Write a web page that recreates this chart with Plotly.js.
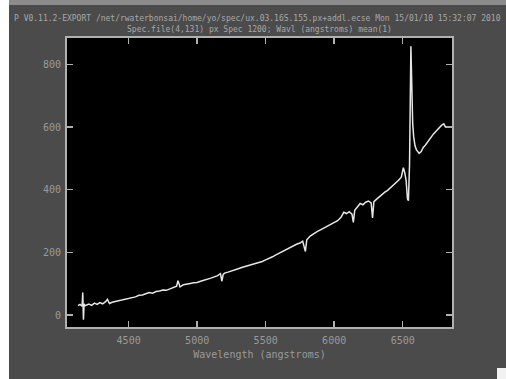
<!DOCTYPE html>
<html>
<head>
<meta charset="utf-8">
<script src="https://cdn.plot.ly/plotly-3.0.1.min.js"></script>
<style>
html,body{margin:0;padding:0;background:#ffffff;width:506px;height:379px;overflow:hidden;}
#wrap{position:absolute;left:9px;top:0;width:497px;height:379px;background:#4b4b4b;overflow:hidden;}
#topband{position:absolute;left:9px;top:0;width:497px;height:5px;background:#8c8c8c;z-index:5;}
#corner{position:absolute;left:497px;top:368px;width:9px;height:11px;background:#f2f2f2;z-index:5;}
#chart{position:absolute;left:0;top:0;width:497px;height:379px;}
</style>
</head>
<body>
<div id="wrap"><div id="chart"></div></div>
<div id="topband"></div>
<div id="corner"></div>
<script>
const wavelength = [4130,4145,4160,4165,4170,4175,4180,4195,4210,4230,4250,4270,4290,4310,4330,4345,4360,4380,4400,4425,4450,4475,4500,4525,4550,4575,4600,4625,4650,4675,4700,4725,4750,4775,4800,4825,4850,4860,4875,4900,4925,4950,4975,5000,5025,5050,5075,5100,5125,5150,5170,5180,5190,5200,5225,5250,5275,5300,5325,5350,5375,5400,5425,5450,5475,5500,5525,5550,5575,5600,5625,5650,5675,5700,5725,5750,5770,5790,5800,5825,5850,5875,5900,5925,5950,5975,6000,6025,6050,6070,6090,6110,6130,6140,6150,6170,6190,6210,6230,6250,6270,6280,6290,6310,6330,6350,6370,6390,6410,6430,6450,6470,6490,6505,6515,6525,6535,6542,6550,6556,6560,6564,6568,6573,6580,6590,6600,6610,6620,6635,6650,6665,6680,6695,6710,6725,6740,6755,6770,6785,6800,6815];
const flux = [30,34,28,72,-15,36,30,33,35,31,38,34,40,36,42,50,37,41,44,46,48,50,53,56,58,63,64,68,72,70,75,77,80,79,84,88,92,110,90,97,98,101,103,104,108,111,113,118,122,126,132,108,130,134,137,140,143,148,152,155,158,161,165,168,171,176,180,186,192,198,203,208,214,220,226,230,236,203,240,252,260,266,272,278,283,288,294,301,312,328,324,330,322,296,334,345,356,352,360,364,358,310,362,370,378,386,392,398,406,414,420,430,440,470,455,430,370,365,480,700,858,780,640,612,570,540,528,520,516,522,535,542,552,558,570,578,585,592,600,606,610,598];
const xTicks = [4500,5000,5500,6000,6500];
const yTicks = [0,200,400,600,800];
const titleLine1 = "P V0.11.2-EXPORT /net/rwaterbonsai/home/yo/spec/ux.03.16S.155.px+addl.ecse Mon 15/01/10 15:32:07 2010";
const titleLine2 = "Spec.file(4,131) px Spec 1200; Wavl (angstroms) mean(1)";
const xTitle = "Wavelength (angstroms)";

const mono = "DejaVu Sans Mono, monospace";
const data = [{
  x: wavelength, y: flux, type: 'scatter', mode: 'lines',
  line: {color: '#e6e6e6', width: 1.5}, hoverinfo: 'none'
}];
const axisCommon = {
  showgrid: false, zeroline: false, showline: true, mirror: 'ticks',
  linecolor: '#b0b0b0', linewidth: 2, ticks: 'inside', ticklen: 6,
  tickcolor: '#b0b0b0', tickwidth: 1.5,
  tickfont: {family: mono, size: 10, color: '#9a9a9a'}
};
const layout = {
  width: 497, height: 379,
  margin: {l: 58, r: 54, t: 38, b: 52},
  paper_bgcolor: '#4b4b4b', plot_bgcolor: '#000000',
  showlegend: false,
  xaxis: Object.assign({}, axisCommon, {
    range: [4050, 6860], tickvals: xTicks, ticktext: xTicks.map(String),
    ticklabelstandoff: 3,
    title: {text: xTitle, font: {family: mono, size: 10, color: '#9a9a9a'}, standoff: 6}
  }),
  yaxis: Object.assign({}, axisCommon, {
    range: [-38, 884], tickvals: yTicks, ticktext: yTicks.map(String),
    ticklabelstandoff: 2
  }),
  annotations: [
    {text: titleLine1, xref: 'paper', yref: 'paper', x: -0.143, y: 1.069, xanchor: 'left', yanchor: 'middle', showarrow: false, font: {family: mono, size: 8, color: '#a8a8a8'}},
    {text: titleLine2, xref: 'paper', yref: 'paper', x: 0.5, y: 1.029, xanchor: 'center', yanchor: 'middle', showarrow: false, font: {family: mono, size: 8, color: '#a8a8a8'}}
  ]
};
Plotly.newPlot('chart', data, layout, {displayModeBar: false, staticPlot: true});
</script>
</body>
</html>
